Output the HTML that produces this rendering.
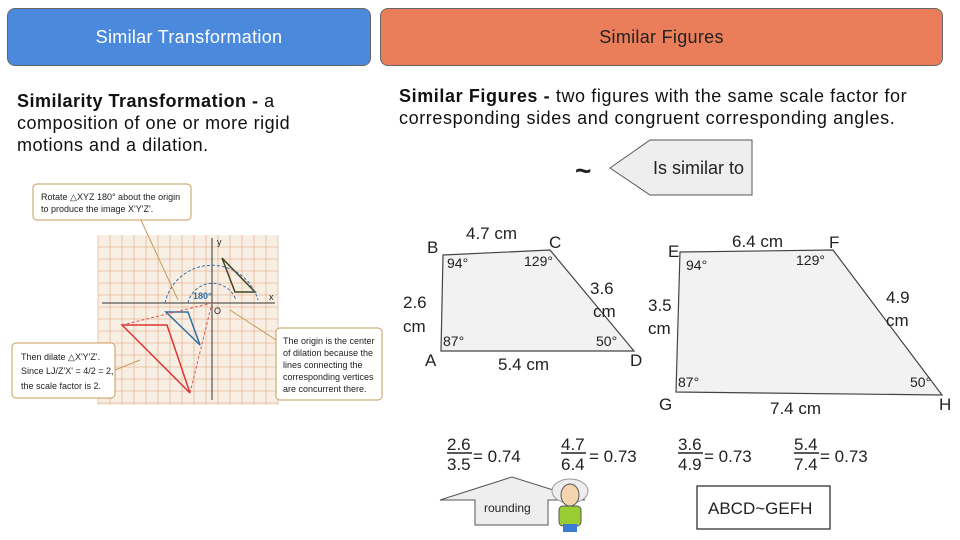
<!DOCTYPE html>
<html><head><meta charset="utf-8"><style>
body{margin:0;width:960px;height:540px;background:#fff;position:relative;overflow:hidden;font-family:"Liberation Sans",sans-serif;}
.hdr{position:absolute;top:8px;height:58px;border-radius:8px;color:#fff;font-size:18px;display:flex;align-items:center;justify-content:center;border:1px solid #666;box-sizing:border-box;letter-spacing:0.3px;}
.t{position:absolute;font-size:18px;color:#111;line-height:22px;}
</style></head><body>
<div class="hdr" style="left:7px;width:364px;background:#4a89dc;">Similar Transformation</div>
<div class="hdr" style="left:380px;width:563px;background:#ea7e5b;color:#222;">Similar Figures</div>
<div class="t" style="left:17px;top:90px;width:320px;letter-spacing:0.5px;"><b>Similarity Transformation -</b> a composition of one or more rigid motions and a dilation.</div>
<div class="t" style="left:399px;top:85px;width:560px;letter-spacing:0.6px;"><b>Similar Figures -</b> two figures with the same scale factor for corresponding sides and congruent corresponding angles.</div>
<svg style="position:absolute;left:0;top:0" width="960" height="540">
<g font-family="Liberation Sans" font-size="9" fill="#222">
<rect x="98" y="235" width="180" height="170" fill="#f7efe4"/>
<g stroke="#e8b89a" stroke-width="0.8">
<path d="M98 235V405M110 235V405M122 235V405M134 235V405M146 235V405M158 235V405M170 235V405M182 235V405M194 235V405M206 235V405M218 235V405M230 235V405M242 235V405M254 235V405M266 235V405M278 235V405"/>
<path d="M98 247H278M98 259H278M98 271H278M98 283H278M98 295H278M98 307H278M98 319H278M98 331H278M98 343H278M98 355H278M98 367H278M98 379H278M98 391H278M98 403H278"/>
</g>
<path d="M102 303H275M212 238V400" stroke="#333" stroke-width="1"/>
<path d="M222 258L235 292H255Z" fill="none" stroke="#442" stroke-width="1.5"/>
<path d="M166 312L188 312L200 345Z" fill="none" stroke="#2f6fa5" stroke-width="1.5"/>
<path d="M122 325L167 325L190 393Z" fill="none" stroke="#d33" stroke-width="1.5"/>
<path d="M122 325L212 303M190 393L212 303" stroke="#d55" stroke-dasharray="3 2" fill="none"/>
<path d="M165 303A48 48 0 0 1 258 300M188 303A25 25 0 0 1 236 300" stroke="#3a6fa0" stroke-dasharray="3 2" fill="none"/>
<path d="M140 218L178 300M140 360L115 370M230 310L276 340" stroke="#c89a5a" fill="none"/>
<text x="193" y="299" fill="#2f6fa5" font-weight="bold">180°</text>
<text x="214" y="314">O</text><text x="217" y="245">y</text><text x="269" y="300">x</text>
<rect x="33" y="184" width="158" height="36" rx="4" fill="#fff" stroke="#c89a5a"/>
<text x="41" y="200">Rotate △XYZ 180° about the origin</text><text x="41" y="212">to produce the image X'Y'Z'.</text>
<rect x="12" y="343" width="103" height="55" rx="4" fill="#fff" stroke="#c89a5a"/>
<text x="21" y="360">Then dilate △X'Y'Z'.</text><text x="21" y="374">Since LJ/Z'X' = 4/2 = 2,</text><text x="21" y="389">the scale factor is 2.</text>
<rect x="276" y="328" width="106" height="72" rx="4" fill="#fff" stroke="#c89a5a"/>
<text x="283" y="344">The origin is the center</text><text x="283" y="356">of dilation because the</text><text x="283" y="368">lines connecting the</text><text x="283" y="380">corresponding vertices</text><text x="283" y="392">are concurrent there.</text>
</g>
<polygon points="610,168 650,140 752,140 752,195 650,195" fill="#eee" stroke="#555"/>
<text x="653" y="174" font-size="18" fill="#222">Is similar to</text>
<text x="575" y="180" font-size="28" fill="#222" font-weight="bold">~</text>
<polygon points="443,255 550,250 634,351 441,351" fill="#f2f2f2" stroke="#444" stroke-width="1.2"/>
<polygon points="680,252 833,250 942,395 676,392" fill="#f2f2f2" stroke="#444" stroke-width="1.2"/>
<g font-size="17" fill="#222">
<text x="427" y="253">B</text><text x="549" y="248">C</text><text x="425" y="366">A</text><text x="630" y="366">D</text>
<text x="466" y="239">4.7 cm</text><text x="590" y="294">3.6</text><text x="593" y="317">cm</text>
<text x="403" y="308">2.6</text><text x="403" y="332">cm</text><text x="498" y="370">5.4 cm</text>
<text x="668" y="257">E</text><text x="829" y="248">F</text><text x="659" y="410">G</text><text x="939" y="410">H</text>
<text x="732" y="247">6.4 cm</text><text x="886" y="303">4.9</text><text x="886" y="326">cm</text>
<text x="648" y="311">3.5</text><text x="648" y="334">cm</text><text x="770" y="414">7.4 cm</text>
</g>
<g font-size="14" fill="#222">
<text x="447" y="268">94°</text><text x="524" y="266">129°</text><text x="443" y="346">87°</text><text x="596" y="346">50°</text>
<text x="686" y="270">94°</text><text x="796" y="265">129°</text><text x="678" y="387">87°</text><text x="910" y="387">50°</text>
</g>
<g font-size="17" fill="#222">
<text x="447" y="450">2.6</text><text x="447" y="470">3.5</text><text x="473" y="462">= 0.74</text>
<text x="561" y="450">4.7</text><text x="561" y="470">6.4</text><text x="589" y="462">= 0.73</text>
<text x="678" y="450">3.6</text><text x="678" y="470">4.9</text><text x="704" y="462">= 0.73</text>
<text x="794" y="450">5.4</text><text x="794" y="470">7.4</text><text x="820" y="462">= 0.73</text>
</g>
<path d="M447 453H472M561 453H586M678 453H703M794 453H819" stroke="#222" stroke-width="1.5"/>
<polygon points="440,500 512,477 585,500 548,500 548,525 475,525 475,500" fill="#eee" stroke="#555"/>
<text x="484" y="512" font-size="12" fill="#222">rounding</text>
<ellipse cx="570" cy="491" rx="18" ry="12" fill="#eee" stroke="#999"/>
<ellipse cx="570" cy="495" rx="9" ry="11" fill="#f5d5b0" stroke="#555"/>
<rect x="559" y="506" width="22" height="20" rx="4" fill="#9acd32" stroke="#555"/>
<rect x="563" y="524" width="14" height="8" fill="#3a7bd5"/>
<rect x="697" y="486" width="133" height="43" fill="#fff" stroke="#222" stroke-width="1.2"/>
<text x="708" y="514" font-size="17" fill="#222">ABCD~GEFH</text>
</svg>
</body></html>
